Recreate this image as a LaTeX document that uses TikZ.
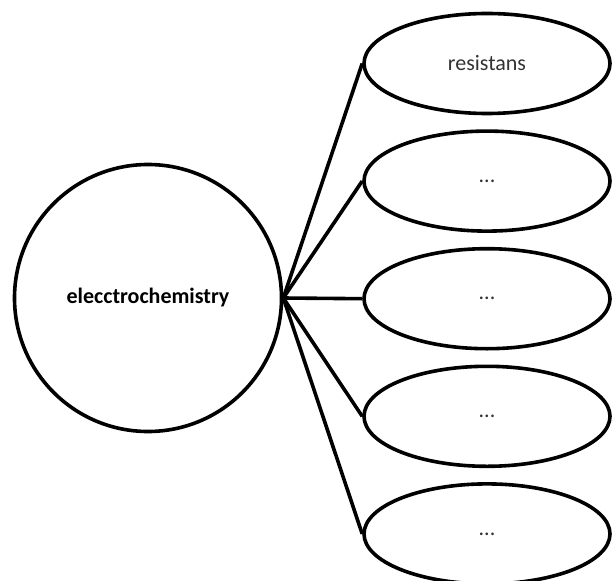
\documentclass[tikz,border=0pt]{standalone}
\usepackage{fontspec}
\setmainfont{Carlito}
\usepackage{tikz}
\usetikzlibrary{positioning,shapes.geometric}

\begin{document}
\begin{tikzpicture}[
      x=1pt, y=-1pt,
      node distance=14pt,
      hub/.style={circle, draw=black, line width=3.6pt, minimum size=267pt,
                  inner sep=0pt, font=\fontsize{22}{26}\selectfont\bfseries},
      oval/.style={ellipse, draw=black, line width=3.6pt, minimum width=246pt,
                   minimum height=100pt, inner sep=0pt,
                   font=\fontsize{22}{26}\selectfont, text=black!80},
      conn/.style={line width=3.6pt}
    ]
    \useasboundingbox (0,0) rectangle (612,580);
    \node[hub] (chem) at (148,298) {elecctrochemistry};
    \node[oval] (o1) at (487,63.5) {resistans};
    \node[oval,below=of o1] (o2) {...};
    \node[oval,below=of o2] (o3) {...};
    \node[oval,below=of o3] (o4) {...};
    \node[oval,below=of o4] (o5) {...};
    \draw[conn] (chem.east) -- (o1.west);
    \draw[conn] (chem.east) -- (o2.west);
    \draw[conn] (chem.east) -- (o3.west);
    \draw[conn] (chem.east) -- (o4.west);
    \draw[conn] (chem.east) -- (o5.west);
  \end{tikzpicture}
\end{document}
